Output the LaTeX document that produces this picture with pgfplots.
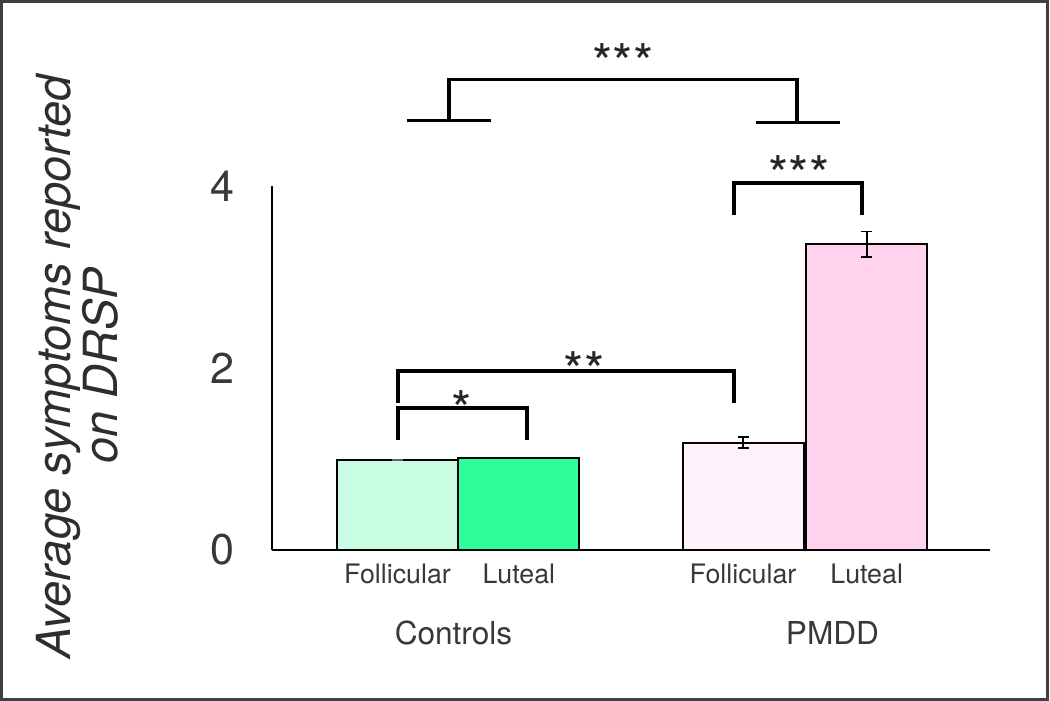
\documentclass[border=0pt]{standalone}
\usepackage{fontspec}
\setmainfont{TeX Gyre Heros}
\usepackage{pgfplots}
\pgfplotsset{compat=1.18}
\definecolor{cf}{RGB}{200,253,228}
\definecolor{cl}{RGB}{46,255,156}
\definecolor{pf}{RGB}{255,242,250}
\definecolor{pl}{RGB}{255,211,237}
\begin{document}
\begin{tikzpicture}
\useasboundingbox (0,0) rectangle (525pt,350.5pt);
\begin{axis}[at={(136pt,75.5pt)}, anchor=south west,
  x=60.5pt, y=45.5pt, xmin=0, xmax=5.934, ymin=0, ymax=4,
  axis x line*=bottom, axis y line*=left,
  axis line style={-, line width=1pt, black},
  ytick={0,2,4},
  xtick={1.037,2.040,3.893,4.915},
  xticklabels={Follicular,Luteal,Follicular,Luteal},
  major tick length=0pt, tick style={draw=none},
  /pgf/number format/assume math mode=true,
  yticklabel style={font=\fontsize{21.5}{21.5}\selectfont, text=black!78, inner sep=0pt, xshift=-18.5pt},
  xticklabel style={font=\fontsize{13.4}{13.4}\selectfont, text=black!78, inner sep=0pt, yshift=-7pt, anchor=north},
  ybar, bar width=60.5pt, bar shift=0pt, clip=false]
\addplot[ybar, bar shift=0pt, fill=cf, draw=black, line width=1pt,
  error bars/.cd, y dir=both, y explicit,
  error bar style={line width=0.8pt, black!60},
  error mark options={rotate=90, mark size=2.75pt, line width=0.8pt, black!60}]
  table[x=x, y=y, y error=e] {
x y e
1.037 0.99 0.005
};
\addplot[ybar, bar shift=0pt, fill=cl, draw=black, line width=1pt]
  table[x=x, y=y] {
x y
2.040 1.01
};
\addplot[ybar, bar shift=0pt, fill=pf, draw=black, line width=1pt,
  error bars/.cd, y dir=both, y explicit,
  error bar style={line width=0.8pt, black},
  error mark options={rotate=90, mark size=2.75pt, line width=0.8pt, black}]
  table[x=x, y=y, y error=e] {
x y e
3.893 1.18 0.06
};
\addplot[ybar, bar shift=0pt, fill=pl, draw=black, line width=1pt,
  error bars/.cd, y dir=both, y explicit,
  error bar style={line width=0.8pt, black},
  error mark options={rotate=90, mark size=2.75pt, line width=0.8pt, black}]
  table[x=x, y=y, y error=e] {
x y e
4.915 3.36 0.14
};
\end{axis}
\begin{scope}[x=0.5pt, y=-0.5pt, shift={(0,350.5pt)}]
\draw[line width=1.5pt, black!75] (1.5,1.5) rectangle (1047.5,699.5);
% y label
\node[rotate=90, anchor=base, inner sep=0pt, text=black!82, font=\fontsize{23.5}{23.5}\selectfont\itshape] at (70,367) {Average symptoms reported};
\node[rotate=90, anchor=base, inner sep=0pt, text=black!82, font=\fontsize{23.5}{23.5}\selectfont\itshape] at (117,366) {on DRSP};
% group labels
\node[anchor=base, inner sep=0pt, text=black!78, font=\fontsize{15.8}{15.8}\selectfont] at (453.5,645) {Controls};
\node[anchor=base, inner sep=0pt, text=black!78, font=\fontsize{15.8}{15.8}\selectfont] at (832.5,645) {PMDD};
% brackets
\begin{scope}[line width=1.65pt, line join=miter]
\draw (407,120.7) -- (491,120.7);
\draw (449,120.7) -- (449,79.3) -- (797,79.3) -- (797,122.7);
\draw (756,122.7) -- (840,122.7);
\end{scope}
\begin{scope}[line width=1.95pt, line join=miter]
\draw (734,215) -- (734,183.3) -- (861.7,183.3) -- (861.7,215);
\draw (398.3,402.7) -- (398.3,370.7) -- (734,370.7) -- (734,402.7);
\draw (398.3,440) -- (398.3,408.3) -- (526.7,408.3) -- (526.7,440);
\end{scope}
\node[anchor=north, inner sep=0pt, text=black!85, font=\fontsize{26}{26}\selectfont] at (623,43.3) {***};
\node[anchor=north, inner sep=0pt, text=black!85, font=\fontsize{26}{26}\selectfont] at (799,155) {***};
\node[anchor=north, inner sep=0pt, text=black!85, font=\fontsize{26}{26}\selectfont] at (584,350.7) {**};
\node[anchor=north, inner sep=0pt, text=black!85, font=\fontsize{26}{26}\selectfont] at (461.7,390) {*};
\end{scope}
\end{tikzpicture}
\end{document}
